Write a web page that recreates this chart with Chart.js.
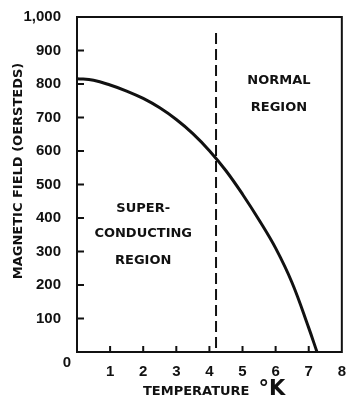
<!DOCTYPE html>
<html>
<head>
<meta charset="utf-8">
<script src="https://cdn.jsdelivr.net/npm/chart.js@4/dist/chart.umd.min.js"></script>
<style>
    html, body { margin: 0; padding: 0; background: #fff; }
    #wrap { width: 349px; height: 401px; }
</style>
</head>
<body>
<div id="wrap"><canvas id="fieldChart" width="349" height="401"></canvas></div>
<script>
// Critical field curve
const temps = [0, 0.5, 1, 1.5, 2, 2.5, 3, 3.5, 4, 4.5, 5, 5.5, 6, 6.5, 7, 7.25];
const fieldOe = [816, 811, 797, 779, 757, 729, 694, 652, 601, 541, 471, 394, 310, 206, 72, 0];

// Boiling point of helium, dashed divider
const dividerT = [4.2, 4.2];
const dividerH = [12, 962];

// Tick values
const xTicks = [1, 2, 3, 4, 5, 6, 7, 8];
const yTicks = [100, 200, 300, 400, 500, 600, 700, 800, 900, 1000];

// Region labels (temperature, field, text)
const regionLabels = [
    [6.1, 810, 'NORMAL'],
    [6.1, 730, 'REGION'],
    [2.0, 428, 'SUPER-'],
    [2.0, 353, 'CONDUCTING'],
    [2.0, 272, 'REGION']
];

const ink = '#111';
const letterFont = 'bold 13px "DejaVu Sans"';

// draws the frame, inward ticks, labels and titles
const decorations = {
    id: 'decorations',
    afterDraw(chart) {
        const ctx = chart.ctx;
        const area = chart.chartArea;
        const xs = chart.scales.x;
        const ys = chart.scales.y;
        ctx.save();
        ctx.strokeStyle = ink;
        ctx.lineWidth = 2;
        ctx.strokeRect(area.left, area.top, area.right - area.left, area.bottom - area.top);

        // inward ticks
        ctx.lineWidth = 2;
        ctx.beginPath();
        xTicks.slice(0, -1).forEach(v => {
            const px = xs.getPixelForValue(v);
            ctx.moveTo(px, area.bottom);
            ctx.lineTo(px, area.bottom - 6);
        });
        yTicks.slice(0, -1).forEach(v => {
            const py = ys.getPixelForValue(v);
            ctx.moveTo(area.left, py);
            ctx.lineTo(area.left + 7, py);
        });
        ctx.stroke();

        // corner zero
        ctx.fillStyle = ink;
        ctx.font = 'bold 15px "Liberation Sans"';
        ctx.textAlign = 'center';
        ctx.textBaseline = 'middle';
        ctx.fillText('0', xs.getPixelForValue(0) - 10, area.bottom + 11);

        // region text
        ctx.font = letterFont;
        regionLabels.forEach(r => {
            ctx.fillText(r[2], xs.getPixelForValue(r[0]), ys.getPixelForValue(r[1]));
        });

        // x title with a larger degree K
        const title = 'TEMPERATURE';
        ctx.textAlign = 'left';
        ctx.textBaseline = 'alphabetic';
        ctx.font = letterFont;
        const tw = ctx.measureText(title).width;
        const tx = 143;
        ctx.fillText(title, tx, 395);
        ctx.font = 'bold 21px "DejaVu Sans"';
        ctx.fillText('\u00B0K', tx + tw + 9, 395);

        // y title
        ctx.font = letterFont;
        ctx.textAlign = 'center';
        ctx.textBaseline = 'middle';
        ctx.translate(19, 171);
        ctx.rotate(-Math.PI / 2);
        ctx.fillText('MAGNETIC FIELD (OERSTEDS)', 0, 0);
        ctx.restore();
    }
};

new Chart(document.getElementById('fieldChart'), {
    type: 'line',
    data: {
        datasets: [
            {
                label: 'Critical field',
                data: temps.map((t, i) => ({ x: t, y: fieldOe[i] })),
                borderColor: ink,
                borderWidth: 3,
                pointRadius: 0,
                tension: 0.4,
                fill: false
            },
            {
                label: '4.2 K',
                data: dividerT.map((t, i) => ({ x: t, y: dividerH[i] })),
                borderColor: ink,
                borderWidth: 2,
                borderDash: [11, 5],
                pointRadius: 0,
                fill: false
            }
        ]
    },
    options: {
        responsive: false,
        animation: false,
        layout: { padding: { top: 16, right: 5, left: 0, bottom: 0 } },
        plugins: { legend: { display: false }, tooltip: { enabled: false } },
        scales: {
            x: {
                type: 'linear',
                min: 0,
                max: 8,
                afterBuildTicks: s => { s.ticks = [0].concat(xTicks).map(v => ({ value: v })); },
                afterFit: s => { s.height = 49; },
                ticks: {
                    color: ink,
                    padding: 3,
                    font: { family: 'Liberation Sans', size: 15, weight: 'bold' },
                    callback: v => (v === 0 ? '' : String(v))
                },
                grid: { display: false },
                border: { display: false }
            },
            y: {
                min: 0,
                max: 1000,
                afterBuildTicks: s => { s.ticks = [0].concat(yTicks).map(v => ({ value: v })); },
                afterFit: s => { s.width = 77; },
                ticks: {
                    color: ink,
                    padding: 8,
                    font: { family: 'Liberation Sans', size: 15, weight: 'bold' },
                    callback: v => (v === 0 ? '' : v === 1000 ? '1,000' : String(v))
                },
                grid: { display: false },
                border: { display: false }
            }
        }
    },
    plugins: [decorations]
});
</script>
</body>
</html>
